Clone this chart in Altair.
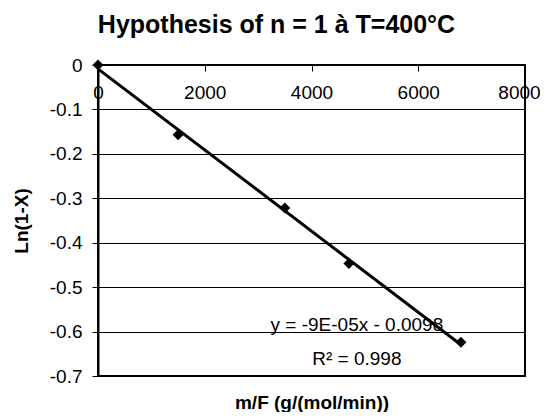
import altair as alt
import pandas as pd

# ---- data ----
mf = [0, 1500, 3500, 4700, 6800]
ln1x = [0.0, -0.157, -0.322, -0.447, -0.624]
x_ticks = [0, 2000, 4000, 6000, 8000]
y_ticks = [0.0, -0.1, -0.2, -0.3, -0.4, -0.5, -0.6, -0.7]
eq_text = ["y = -9E-05x - 0.0098", "R² = 0.998"]
eq_x = [4850, 4850]
eq_y = [-0.599, -0.675]

df = pd.DataFrame({"mf": mf, "ln": ln1x})
ann = pd.DataFrame({"t": eq_text, "x": eq_x, "y": eq_y})

FONT = "Liberation Sans"
W, H = 427, 311

xs = alt.Scale(domain=[0, 8000], nice=False, zero=False)
ys = alt.Scale(domain=[-0.7, 0], nice=False, zero=False)

xaxis = alt.Axis(
    orient="bottom", offset=-H, values=x_ticks, format="d",
    tickSize=6, tickColor="black", tickWidth=1,
    labelPadding=12, labelFontSize=19, labelFont=FONT, labelColor="black",
    labelFlush=False, labelOverlap=False,
    labelOffset={"condition": {"test": "datum.value == 8000", "value": -6}, "value": 0},
    domain=False, grid=False,
    title="m/F (g/(mol/min))", titleFont=FONT, titleFontSize=19,
    titleFontWeight="bold", titleColor="black",
    titleY=343, titleBaseline="alphabetic",
)
yaxis = alt.Axis(
    values=y_ticks,
    labelExpr="datum.value == 0 ? '0' : replace(format(datum.value, '.1f'), '\u2212', '-')",
    tickSize=6, tickColor="black", tickWidth=1,
    labelPadding=10, labelFontSize=19, labelFont=FONT, labelColor="black",
    labelFlush=False,
    domainColor="black", domainWidth=2,
    grid=True, gridColor="black", gridWidth=1,
    title="Ln(1-X)", titleFont=FONT, titleFontSize=19,
    titleFontWeight="bold", titleColor="black", titlePadding=18,
)

points = alt.Chart(df).mark_point(
    shape="diamond", filled=True, color="black", size=120, opacity=1
).encode(
    x=alt.X("mf:Q", scale=xs, axis=xaxis),
    y=alt.Y("ln:Q", scale=ys, axis=yaxis),
)

trend = alt.Chart(df).transform_regression("mf", "ln").mark_line(
    color="black", strokeWidth=3
).encode(
    x=alt.X("mf:Q", scale=xs),
    y=alt.Y("ln:Q", scale=ys),
)

labels = alt.Chart(ann).mark_text(
    font=FONT, fontSize=19, color="black", align="center", baseline="alphabetic"
).encode(
    x=alt.X("x:Q", scale=xs),
    y=alt.Y("y:Q", scale=ys),
    text="t:N",
)

chart = alt.layer(trend, points, labels).properties(
    width=W, height=H,
    title=alt.TitleParams(
        "Hypothesis of n = 1 à T=400°C", font=FONT, fontSize=25,
        fontWeight="bold", color="black", anchor="middle", offset=18, dx=-35,
    ),
    autosize=alt.AutoSizeParams(type="none"),
    padding={"left": 90, "top": 57, "right": 16, "bottom": 36},
).configure_view(stroke="black", strokeWidth=2)

chart.save("out.html", embed_options={"renderer": "svg", "actions": False})
